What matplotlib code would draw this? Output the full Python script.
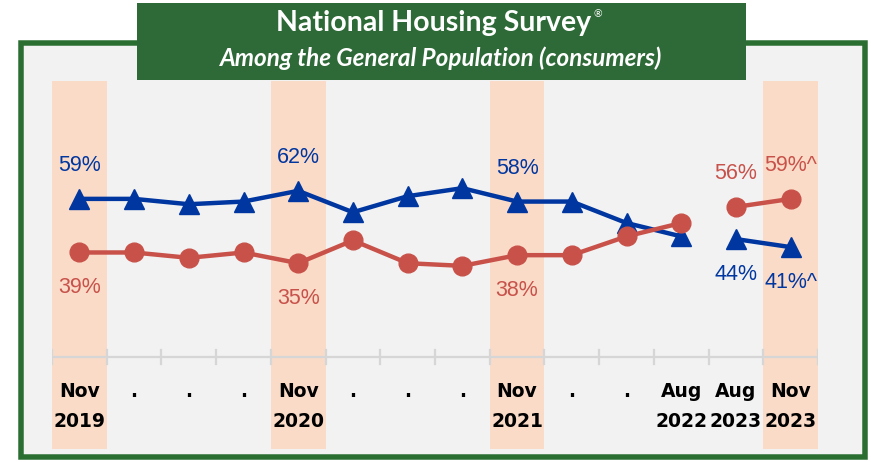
import matplotlib
matplotlib.use("Agg")
import matplotlib.pyplot as plt
import matplotlib.patches as patches
import numpy as np

# ---------------- data ----------------
line1 = ["Nov", ".", ".", ".", "Nov", ".", ".", ".", "Nov", ".", ".", "Aug", "Aug", "Nov"]
line2 = ["2019", "", "", "", "2020", "", "", "", "2021", "", "", "2022", "2023", "2023"]
highlight = [0, 4, 8, 13]
blue_vals = [59, 59, 57, 58, 62, 54, 60, 63, 58, 58, 50, 45, 44, 41]
red_vals = [39, 39, 37, 39, 35, 43.5, 35, 34, 38, 38, 45, 50, 56, 59]
blue_labels = {0: ("59%", "above"), 4: ("62%", "above"), 8: ("58%", "above"),
               12: ("44%", "below"), 13: ("41%^", "below")}
red_labels = {0: ("39%", "below"), 4: ("35%", "below"), 8: ("38%", "below"),
              12: ("56%", "above"), 13: ("59%^", "above")}
segments = [(0, 12), (12, 14)]
title = "National Housing Survey"
subtitle = "Among the General Population (consumers)"

# ---------------- style ----------------
W, H = 871, 462
BLUE = "#0036A0"
RED = "#C8524A"
BAND = "#FADBC8"
BG = "#F2F2F2"
FRAME = "#2A6E32"
TITLEBG = "#2E6A37"
AXISC = "#D6D6D6"

fig = plt.figure(figsize=(W / 100, H / 100), dpi=100, facecolor="white")


def fx(x):
    return x / W


def fy(y):
    return 1 - y / H


# frame
frame = patches.Rectangle((fx(21), fy(457)), fx(865) - fx(21), fy(43) - fy(457),
                          transform=fig.transFigure, facecolor=BG, edgecolor=FRAME,
                          linewidth=5.5 * 72 / 100, zorder=-2)
fig.patches.append(frame)
# title box
tbox = patches.Rectangle((fx(137), fy(80)), fx(746) - fx(137), fy(3) - fy(80),
                         transform=fig.transFigure, facecolor=TITLEBG, edgecolor="none",
                         zorder=-1)
fig.patches.append(tbox)
fig.text(fx(434), fy(23), title, color="white", fontsize=20.5, fontweight="bold",
         family=["Lato", "DejaVu Sans"], ha="center", va="center")
fig.text(fx(598), fy(15), "®", color="white", fontsize=7.5, family=["Lato", "DejaVu Sans"],
         ha="center", va="center")
fig.text(fx(441), fy(58), subtitle, color="white", fontsize=17.5, fontweight="bold",
         style="italic", family=["Lato", "DejaVu Sans"], ha="center", va="center")

# main axes
px_per_unit = 2.68
ax = fig.add_axes([fx(52), fy(449), fx(818) - fx(52), fy(81) - fy(449)])
ax.set_facecolor("none")
ax.set_xlim(-0.5, 13.5)
ax.set_ylim(-(449 - 357) / px_per_unit, (357 - 81) / px_per_unit)
ax.axis("off")

for i in highlight:
    ax.axvspan(i - 0.5, i + 0.5, color=BAND, lw=0, zorder=0)

n = len(line1)
x = np.arange(n)
ax.plot([-0.5, n - 0.5], [0, 0], color=AXISC, lw=1.6, zorder=1, solid_capstyle="butt")
tick_h = 7 / px_per_unit
for b in np.arange(-0.5, n, 1.0):
    ax.plot([b, b], [-tick_h, tick_h], color=AXISC, lw=1.6, zorder=1)

bv = np.array(blue_vals, dtype=float)
rv = np.array(red_vals, dtype=float)
for s, e in segments:
    ax.plot(x[s:e], bv[s:e], color=BLUE, lw=3.2, marker="^", markersize=15,
            zorder=3)
    ax.plot(x[s:e], rv[s:e], color=RED, lw=3.2, marker="o", markersize=13.5,
            zorder=4)


def put_labels(vals, labels, color):
    for i, (txt, pos) in labels.items():
        off = 24 if pos == "above" else -25.5
        ax.annotate(txt, (x[i], vals[i]), xytext=(0, off), textcoords="offset points",
                    ha="center", va="center", color=color, fontsize=15.5,
                    family=["Liberation Sans", "DejaVu Sans"], zorder=5)


put_labels(bv, blue_labels, BLUE)
put_labels(rv, red_labels, RED)

for i in range(n):
    ax.annotate(line1[i], (x[i], 0), xytext=(0, -39.7 * 0.72), textcoords="offset points",
                ha="center", va="baseline", fontsize=13.5, fontweight="bold",
                family="DejaVu Sans", color="black")
    if line2[i]:
        ax.annotate(line2[i], (x[i], 0), xytext=(0, -69.7 * 0.72), textcoords="offset points",
                    ha="center", va="baseline", fontsize=13.5, fontweight="bold",
                    family="DejaVu Sans", color="black")

fig.savefig("out.png", dpi=100, facecolor="white")
